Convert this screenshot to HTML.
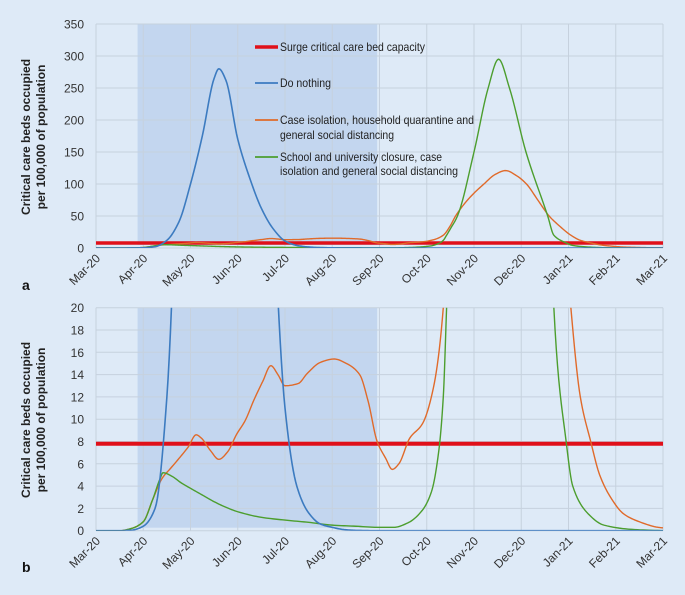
<!DOCTYPE html>
<html><head><meta charset="utf-8">
<style>
html,body{margin:0;padding:0;background:#deeaf7;}
svg{display:block;font-family:"Liberation Sans",sans-serif;}
</style></head>
<body>
<svg id="chart" width="685" height="595" viewBox="0 0 685 595" xmlns="http://www.w3.org/2000/svg">
<rect width="685" height="595" fill="#deeaf7"/>
<defs>
<clipPath id="clipA"><rect x="96" y="24" width="567" height="224"/></clipPath>
<clipPath id="clipB"><rect x="96" y="307.7" width="567" height="223"/></clipPath>
</defs>
<g id="panelA"></g>
<g id="panelB"></g>
<text x="22" y="290" font-size="14" font-weight="bold" fill="#111">a</text>
<text x="22" y="572" font-size="14" font-weight="bold" fill="#111">b</text>
<g font-size="12" fill="#222">
<line x1="255" y1="47" x2="278" y2="47" stroke="#e0101a" stroke-width="3.5"/>
<text x="280" y="51" textLength="145" lengthAdjust="spacingAndGlyphs">Surge critical care bed capacity</text>
<line x1="255" y1="83" x2="278" y2="83" stroke="#3c7bc0" stroke-width="1.8"/>
<text x="280" y="87" textLength="51" lengthAdjust="spacingAndGlyphs">Do nothing</text>
<line x1="255" y1="120" x2="278" y2="120" stroke="#e06a2a" stroke-width="1.8"/>
<text x="280" y="124" textLength="194" lengthAdjust="spacingAndGlyphs">Case isolation, household quarantine and</text>
<text x="280" y="139" textLength="114" lengthAdjust="spacingAndGlyphs">general social distancing</text>
<line x1="255" y1="157" x2="278" y2="157" stroke="#4c9e2e" stroke-width="1.8"/>
<text x="280" y="161" textLength="162" lengthAdjust="spacingAndGlyphs">School and university closure, case</text>
<text x="280" y="175" textLength="178" lengthAdjust="spacingAndGlyphs">isolation and general social distancing</text>
</g>
</svg>
<script>
const monthLabels=["Mar-20","Apr-20","May-20","Jun-20","Jul-20","Aug-20","Sep-20","Oct-20","Nov-20","Dec-20","Jan-21","Feb-21","Mar-21"];
const ticksA=[0,50,100,150,200,250,300,350];
const ticksB=[0,2,4,6,8,10,12,14,16,18,20];
const surgeCapacity=[7.8];
const shadeStartEnd=[0.88,5.95];
const blueT=[0,0.5,0.75,1,1.25,1.5,1.75,2,2.25,2.5,2.6,2.75,3,3.25,3.5,3.75,4,4.25,4.5,4.75,5,5.25,5.5,6,12];
const blueV=[0,0,0.05,0.4,2,12,40,100,175,265,280,262,170,110,62,30,11,4,1.6,0.6,0.3,0.1,0.03,0,0];
const orangeT=[0,0.5,0.75,1,1.2,1.4,1.58,1.76,1.95,2.12,2.23,2.42,2.6,2.79,2.97,3.16,3.34,3.53,3.7,3.85,4,4.28,4.47,4.75,5.04,5.3,5.58,5.76,5.95,6.13,6.27,6.41,6.64,6.91,7.14,7.35,7.5,7.61,7.9,8.21,8.45,8.67,8.9,9.11,9.35,9.59,9.8,10.05,10.25,10.47,10.66,10.89,11.17,11.5,11.9,12];
const orangeV=[0,0,0.2,0.8,2.8,4.7,5.6,6.5,7.5,8.6,8.3,7.2,6.4,7.1,8.6,9.9,11.7,13.4,14.8,14,13,13.2,14.1,15.1,15.4,15,14,11.6,8,6.5,5.5,6,8.3,9.6,12.8,20,35,50,78,100,115,121,113,100,75,50,35,20,12,8,5,3,1.5,0.8,0.3,0.25];
const greenT=[0,0.5,0.75,1,1.2,1.35,1.42,1.6,1.8,2,2.25,2.5,2.75,3,3.5,4,4.5,5,5.5,6,6.3,6.6,6.9,7.1,7.25,7.35,7.42,7.5,7.65,8,8.3,8.52,8.75,9.1,9.56,9.69,9.95,10.09,10.42,10.75,11.4,12];
const greenV=[0,0,0.2,0.8,2.8,4.6,5.2,4.9,4.3,3.8,3.2,2.6,2.1,1.7,1.2,0.95,0.75,0.5,0.4,0.3,0.3,0.7,1.8,3.5,7,12,20,30,50,150,250,295,250,150,50,20,8,4,1.5,0.5,0.1,0];
const NS="http://www.w3.org/2000/svg";
const X0=96,X1=663;
function xs(m){return X0+(X1-X0)*m/12;}
function mk(tag,attrs,parent){const e=document.createElementNS(NS,tag);for(const k in attrs)e.setAttribute(k,attrs[k]);parent.appendChild(e);return e;}
function pathFor(T,V,ys){
  const n=T.length,d=[],m=new Array(n).fill(0);
  for(let i=0;i<n-1;i++)d.push((V[i+1]-V[i])/(T[i+1]-T[i]));
  m[0]=d[0];m[n-1]=d[n-2];
  for(let i=1;i<n-1;i++){
    if(d[i-1]*d[i]<=0)m[i]=0;
    else{const h0=T[i]-T[i-1],h1=T[i+1]-T[i];const w1=2*h1+h0,w2=h1+2*h0;m[i]=(w1+w2)/(w1/d[i-1]+w2/d[i]);}
  }
  let s="M"+xs(T[0]).toFixed(2)+","+ys(V[0]).toFixed(2);
  for(let i=0;i<n-1;i++){
    const h=T[i+1]-T[i];
    for(let k=1;k<=10;k++){
      const u=k/10,h00=2*u*u*u-3*u*u+1,h10=u*u*u-2*u*u+u,h01=-2*u*u*u+3*u*u,h11=u*u*u-u*u;
      const v=h00*V[i]+h10*h*m[i]+h01*V[i+1]+h11*h*m[i+1];
      s+=" L"+xs(T[i]+u*h).toFixed(2)+","+ys(v).toFixed(2);
    }
  }
  return s;
}
function panel(g,top,bottom,ymax,ticks,clip,labY,surgeW,pfx){
  const ys=v=>bottom-(bottom-top)*v/ymax;
  const sh=mk("rect",{x:xs(shadeStartEnd[0]),y:top,width:xs(shadeStartEnd[1])-xs(shadeStartEnd[0]),height:bottom-top-3,fill:"#c3d6ef"},g);
  
  
  ticks.forEach(v=>{
    const l=mk("line",{x1:X0,x2:X1,y1:ys(v),y2:ys(v),stroke:"#c6d1de","stroke-width":1},g);
    
    
    const t=mk("text",{x:84,y:ys(v)+4.5,"text-anchor":"end","font-size":12,fill:"#333"},g);
    t.textContent=v;
    
    
  });
  monthLabels.forEach((lab,i)=>{
    const l=mk("line",{x1:xs(i),x2:xs(i),y1:top,y2:bottom,stroke:"#c6d1de","stroke-width":1},g);
    
    
    const x=xs(i)+5,y=bottom+11;
    const t=mk("text",{x:x,y:y,"text-anchor":"end","font-size":12,fill:"#333",transform:"rotate(-45 "+x+" "+y+")"},g);
    t.textContent=lab;
    
    
  });
  const cg=mk("g",{"clip-path":"url(#"+clip+")"},g);
  
  
  const sv=mk("line",{x1:X0,x2:X1,y1:ys(surgeCapacity[0]),y2:ys(surgeCapacity[0]),stroke:"#e0101a","stroke-width":surgeW},cg);
  
  
  const o=mk("path",{d:pathFor(orangeT,orangeV,ys),fill:"none",stroke:"#e06a2a","stroke-width":1.4},cg);
  
  
  const gr=mk("path",{d:pathFor(greenT,greenV,ys),fill:"none",stroke:"#4c9e2e","stroke-width":1.4},cg);
  
  
  const b=mk("path",{d:pathFor(blueT,blueV,ys),fill:"none",stroke:"#3c7bc0","stroke-width":1.6},cg);
  
  
  const yt=mk("text",{"text-anchor":"middle","font-size":12,"font-weight":"bold",fill:"#222",transform:"translate(30 "+labY+") rotate(-90)"},g);
  
  
  const s1=mk("tspan",{x:0,y:0},yt);s1.textContent="Critical care beds occupied";
  const s2=mk("tspan",{x:0,y:15},yt);s2.textContent="per 100,000 of population";
}
panel(document.getElementById("panelA"),24,248,350,ticksA,"clipA",137,3.5,"panel-a");
panel(document.getElementById("panelB"),307.7,530.7,20,ticksB,"clipB",420,4,"panel-b");
</script>
</body></html>
